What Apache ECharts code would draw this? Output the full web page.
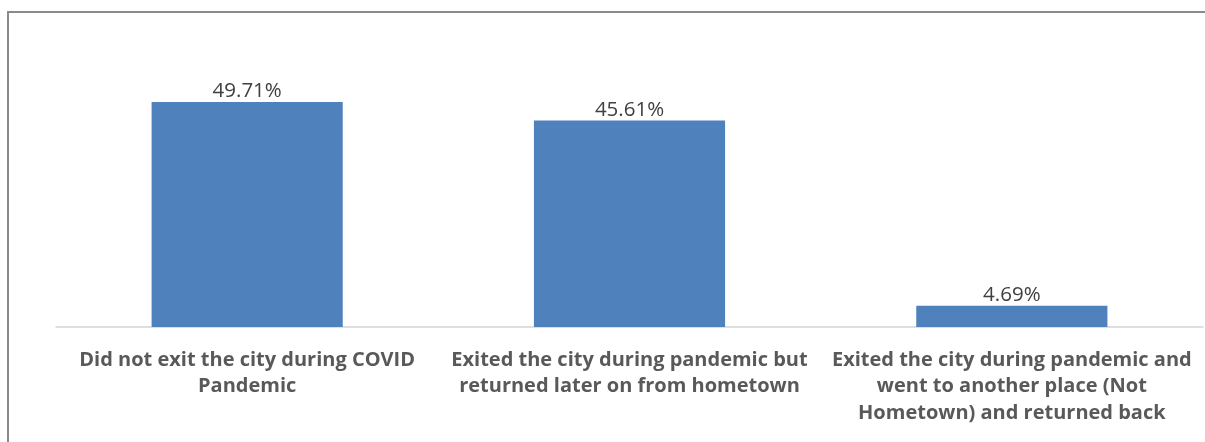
<!DOCTYPE html>
<html>
<head>
<meta charset="utf-8">
<script src="https://cdn.jsdelivr.net/npm/echarts@6/dist/echarts.min.js"></script>
<style>
  html, body { margin: 0; padding: 0; background: #fff; }
  #wrap { position: relative; width: 1205px; height: 442px; overflow: hidden; }
  #chart { position: absolute; left: 0; top: 0; width: 1205px; height: 442px; }
  /* chart frame: only the left and top edges fall inside the view */
  #frame { position: absolute; left: 7px; top: 11px; width: 1300px; height: 500px;
           border-left: 2px solid #8a8a8a; border-top: 2px solid #8a8a8a; pointer-events: none; }
</style>
</head>
<body>
<div id="wrap">
  <div id="chart"></div>
  <div id="frame"></div>
</div>
<script>
// Where residents were during the COVID pandemic (share of respondents)
const categories = [
  'Did not exit the city during COVID\nPandemic',
  'Exited the city during pandemic but\nreturned later on from hometown',
  'Exited the city during pandemic and\nwent to another place (Not\nHometown) and returned back'
];
const shares = [49.71, 45.61, 4.69];

const chart = echarts.init(document.getElementById('chart'), null, { renderer: 'canvas' });
chart.setOption({
  animation: false,
  grid: { left: 56, right: 2, top: 55.4, bottom: 115 },
  xAxis: {
    type: 'category',
    data: categories,
    axisLine: { show: true, lineStyle: { color: '#d4d4d4', width: 1.5 } },
    axisTick: { show: false },
    axisLabel: {
      interval: 0,
      margin: 20,
      color: '#595959',
      fontFamily: '"Open Sans", sans-serif',
      fontWeight: 'bold',
      fontSize: 20,
      lineHeight: 26.5,
      align: 'center'
    }
  },
  yAxis: {
    type: 'value',
    min: 0,
    max: 60,
    show: false,
    splitLine: { show: false }
  },
  series: [{
    type: 'bar',
    data: shares,
    barWidth: '50%',
    itemStyle: { color: '#4f81bd' },
    label: {
      show: true,
      position: 'top',
      distance: 0,
      color: '#404040',
      fontFamily: '"Open Sans", sans-serif',
      fontSize: 20.5,
      formatter: p => p.value.toFixed(2) + '%'
    }
  }]
});
</script>
</body>
</html>
